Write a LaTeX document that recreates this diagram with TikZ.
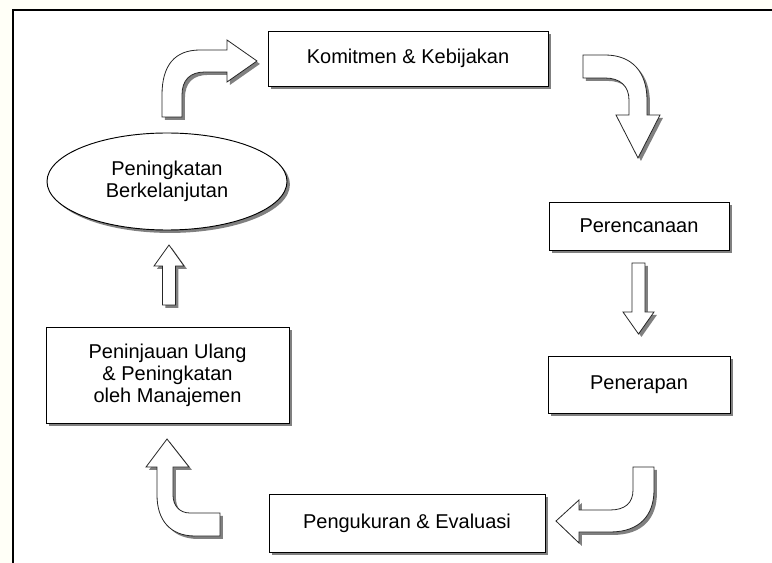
\documentclass[tikz,border=0pt]{standalone}
\usepackage{fontspec}
\setmainfont{Liberation Sans}
\usetikzlibrary{shapes.geometric,shadows}

\begin{document}
\begin{tikzpicture} [
x=0.75pt, y=-0.75pt,
font=\fontsize{15}{16.5}\selectfont,
shade/.style={drop shadow={shadow xshift=2.2pt, shadow yshift=-2.2pt, fill=black!50, opacity=1}},
stepbox/.style={rectangle, draw=black, fill=white, line width=0.7pt, align=center, shade},
loopnode/.style={ellipse, draw=black, fill=white, line width=0.7pt, align=center, inner sep=0pt, shade},
blockarrow/.style={draw=black!85, fill=white, line width=0.6pt, line join=miter, shade},
]
\useasboundingbox (0,0) rectangle (772,563);
\fill[yellow!3] (0,0) rectangle (772,563);
\fill[white] (13,10) rectangle (772,563);
\draw[line width=1.3pt] (13,563) -- (13,10) -- (772,10);

%Nodes
\node[stepbox, minimum width=210pt, minimum height=41.25pt]   (komitmen)    at (408,58.5)  {Komitmen \& Kebijakan};
\node[stepbox, minimum width=135pt, minimum height=36pt]      (perencanaan) at (639,226)   {Perencanaan};
\node[stepbox, minimum width=136.5pt, minimum height=42.75pt] (penerapan)   at (639,384.5) {Penerapan};
\node[stepbox, minimum width=207pt, minimum height=43.5pt]    (pengukuran)  at (407,523)   {Pengukuran \& Evaluasi};
\node[stepbox, minimum width=182.25pt, minimum height=72pt]   (peninjauan)  at (167.5,375) {Peninjauan Ulang\\\& Peningkatan\\oleh Manajemen};
\node[loopnode, minimum width=180pt, minimum height=72.75pt]  (peningkatan) at (167,181.5) {Peningkatan\\Berkelanjutan};

%Arrows
% peningkatan to komitmen
\draw[blockarrow] (162,117) -- (162,95) .. controls (162,65) and (175,50) .. (200,50) -- (227,50) -- (227,40) -- (257,61)
  -- (227,82) -- (227,72) -- (205,72) .. controls (190,72) and (182,80) .. (182,95) -- (182,117) -- cycle;
% komitmen to perencanaan
\draw[blockarrow] (583,55) -- (605,55) .. controls (632,55) and (647,72) .. (647,100) -- (647,115) -- (660,115) -- (638,158)
  -- (616,115) -- (629,115) -- (629,100) .. controls (629,86) and (620,78) .. (605,78) -- (583,78) -- cycle;
% perencanaan to penerapan
\draw[blockarrow] (632,263) -- (632,312) -- (623,312) -- (638.5,334) -- (654,312) -- (645,312) -- (645,263) -- cycle;
% penerapan to pengukuran
\draw[blockarrow] (633,467) -- (633,490) .. controls (633,503) and (625,510) .. (610,510) -- (579,510) -- (579,500) -- (556,521)
  -- (579,543) -- (579,532) -- (610,532) .. controls (640,532) and (654,515) .. (654,490) -- (654,467) -- cycle;
% pengukuran to peninjauan
\draw[blockarrow] (220,513) -- (190,513) .. controls (179,513) and (173,505) .. (173,495) -- (173,467) -- (189,467) -- (167,439)
  -- (146,467) -- (157,467) -- (157,495) .. controls (157,520) and (170,536) .. (195,536) -- (220,536) -- cycle;
% peninjauan to peningkatan
\draw[blockarrow] (162.5,305) -- (162.5,266) -- (154,266) -- (169,245) -- (184,266) -- (175.5,266) -- (175.5,305) -- cycle;

\end{tikzpicture}
\end{document}
